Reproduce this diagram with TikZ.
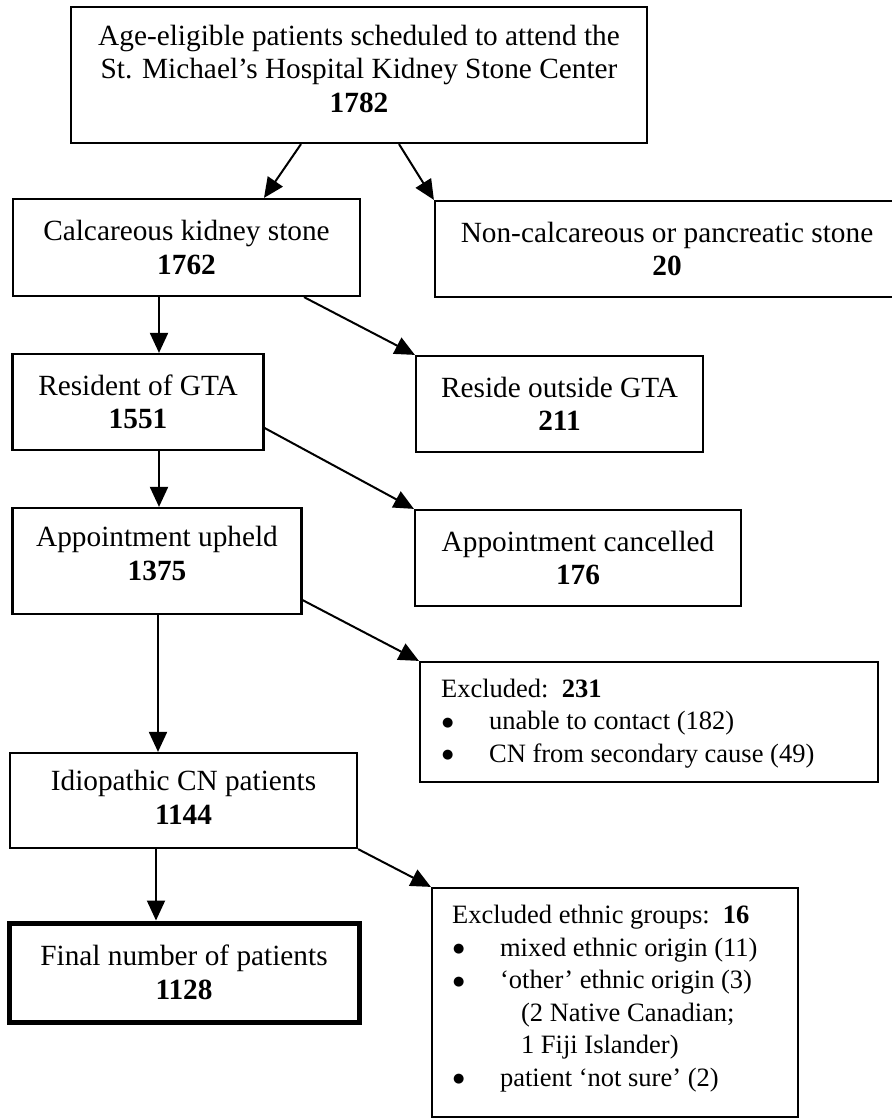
\documentclass[tikz,border=0pt]{standalone}
\usepackage{fontspec}
\setmainfont{Liberation Serif}
\newfontfamily\dotfont{DejaVu Sans}
\usetikzlibrary{arrows.meta, calc, positioning}

\newcommand{\bigtxt}{\fontsize{29.3}{33.5}\selectfont}
\newcommand{\smalltxt}{\fontsize{26.5}{32.5}\selectfont}
\newcommand{\blt}[1]{\hspace*{1pt}\makebox[47pt][l]{\raisebox{3.5pt}{\dotfont\fontsize{13}{13}\selectfont ●}}#1}

\begin{document}
\begin{tikzpicture}[x=1pt,y=-1pt,>={Triangle[length=20pt,width=18pt]},
		box/.style={draw,line width=2.2pt,align=center,inner sep=0pt,font=\bigtxt},
		lst/.style={anchor=north west,align=left,inner sep=0pt,font=\smalltxt},
		arr/.style={->,line width=2pt}]
		\useasboundingbox (0,0) rectangle (891,1118);
		\node[box,minimum width=576pt,minimum height=136pt,text depth=13pt] (top) at (359,75) {Age-eligible patients scheduled to attend the\\St. Michael's Hospital Kidney Stone Center\\\textbf{1782}};
		\node[box,minimum width=347pt,minimum height=97pt] (calc) at (186.5,247.5) {Calcareous kidney stone\\\textbf{1762}};
		\node[box,minimum width=464pt,minimum height=96pt] (noncalc) at (667,249) {Non-calcareous or pancreatic stone\\\textbf{20}};
		\draw[arr] ([xshift=-58pt]top.south) -- ([xshift=77.5pt]calc.north); \draw[arr] ([xshift=40pt]top.south) -- (noncalc.north west);

		\node[box,minimum width=251pt,minimum height=96pt] (resident) at (138,402) {Resident of GTA\\\textbf{1551}};
		\node[box,minimum width=287pt,minimum height=96pt] (reside) at (559.5,404) {Reside outside GTA\\\textbf{211}};
		\draw[arr] ([xshift=-27.5pt]calc.south) -- ([xshift=-27.5pt]calc.south |- resident.north); \draw[arr] ([xshift=117.5pt]calc.south) -- (reside.north west);

		\node[box,minimum width=289pt,minimum height=106pt,text depth=15pt] (upheld) at (157,561) {Appointment upheld\\\textbf{1375}};
		\node[box,minimum width=326pt,minimum height=96pt] (cancelled) at (578,558) {Appointment cancelled\\\textbf{176}};
		\draw[arr] ([xshift=21pt]resident.south) -- ([xshift=21pt]resident.south |- upheld.north); \draw[arr] ([yshift=-26pt]resident.east) -- (cancelled.north west);

		\node[box,minimum width=458pt,minimum height=120pt] (excl) at (649,722) {};
		\node[lst] (excltext) at ([xshift=22pt,yshift=-18pt]excl.north west) {Excluded:\ \ \textbf{231}\\\blt{unable to contact (182)}\\\blt{CN from secondary cause (49)}};
		\node[box,minimum width=347pt,minimum height=95pt,text depth=6pt] (idio) at (183.5,800.5) {Idiopathic CN patients\\\textbf{1144}};
		\draw[arr] ([xshift=1pt]upheld.south) -- ([xshift=1pt]upheld.south |- idio.north); \draw[arr] ([yshift=15pt]upheld.south east) -- (excl.north west);

		\node[box,line width=5pt,minimum width=350pt,minimum height=99pt] (final) at (184,972.5) {Final number of patients\\\textbf{1128}};
		\node[box,minimum width=366pt,minimum height=229pt] (ethnic) at (615,1002.5) {};
		\node[lst] (ethnictext) at ([xshift=21pt,yshift=-18pt]ethnic.north west) {Excluded ethnic groups:\ \ \textbf{16}\\\blt{mixed ethnic origin (11)}\\\blt{`other' ethnic origin (3)}\\\hspace*{69pt}(2 Native Canadian;\\\hspace*{69pt}1 Fiji Islander)\\\blt{patient `not sure' (2)}};
		\draw[arr] ([xshift=-27.5pt]idio.south) -- ([xshift=-27.5pt]idio.south |- final.north); \draw[arr] (idio.south east) -- (ethnic.north west);
	\end{tikzpicture}
\end{document}
